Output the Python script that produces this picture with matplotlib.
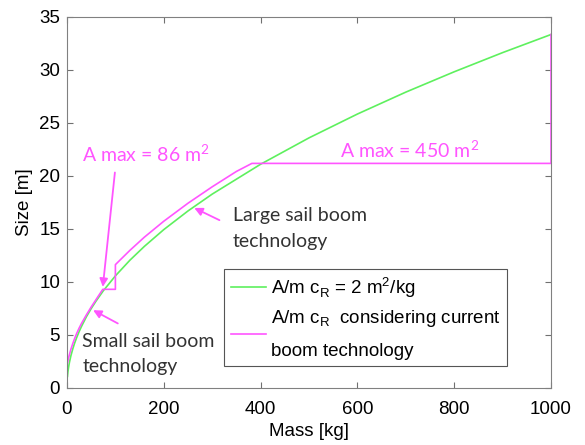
import matplotlib.pyplot as plt

# sail size versus spacecraft mass for A/m cR = 2 m^2/kg
mass_ideal = [1, 2, 3, 5, 8, 12, 16, 20, 25, 30, 40, 50, 60, 75, 100, 130, 160, 200,
              250, 300, 400, 500, 600, 700, 800, 900, 1000]
size_ideal = [1.05, 1.49, 1.83, 2.36, 2.98, 3.65, 4.22, 4.71, 5.27, 5.77, 6.67, 7.45,
              8.16, 9.13, 10.54, 12.02, 13.33, 14.91, 16.67, 18.26, 21.08, 23.57,
              25.82, 27.89, 29.81, 31.62, 33.33]

# same sizing, limited by the booms available today
mass_boom = [1, 3, 5, 8, 12, 16, 20, 25, 30, 40, 50, 60, 74, 100, 100, 130, 160,
             200, 250, 300, 350, 382, 1000, 1000]
size_boom = [2.3, 2.75, 3.1, 3.6, 4.15, 4.65, 5.1, 5.6, 6.05, 6.85, 7.6, 8.3, 9.27,
             9.27, 11.6, 12.95, 14.2, 15.7, 17.4, 18.95, 20.4, 21.16, 21.16, 33.33]

green = "#5ef05e"
magenta = "#ff55ff"
note_font = "Lato"
note_size = 14
fs = 13.5

plt.rcParams["font.family"] = ["Liberation Sans", "DejaVu Sans"]
plt.rcParams["mathtext.fontset"] = "custom"

fig = plt.figure(figsize=(5.85, 4.45), dpi=100)
ax = fig.add_axes([0.1145, 0.1292, 0.8274, 0.833])

ax.plot(mass_ideal, size_ideal, color=green, lw=1.2,
        label="A/m c$_\\mathregular{R}$ = 2 m$^\\mathregular{2}$/kg")
ax.plot(mass_boom, size_boom, color=magenta, lw=1.2,
        label="A/m c$_\\mathregular{R}$  considering current\nboom technology")

ax.set_xlim(0, 1000)
ax.set_ylim(0, 35)
ax.set_xticks([0, 200, 400, 600, 800, 1000])
ax.set_yticks(range(0, 36, 5))
ax.set_xlabel("Mass [kg]", fontsize=fs, labelpad=3)
ax.set_ylabel("Size [m]", fontsize=fs, labelpad=4)
ax.tick_params(direction="in", top=True, right=True, labelsize=fs,
               color="#707070", length=4)
ax.tick_params(axis="x", pad=10)
ax.tick_params(axis="y", pad=5)
for s in ax.spines.values():
    s.set_color("#808080")
    s.set_linewidth(0.8)

arrow = dict(arrowstyle="-|>", color=magenta, lw=1.3, mutation_scale=12,
             shrinkA=0, shrinkB=0)

ax.text(32, 21.27, "A max = 86 m$^\\mathregular{2}$", color=magenta,
        fontsize=note_size, family=note_font, va="baseline")
ax.annotate("", xy=(74, 9.5), xytext=(99, 20.3), arrowprops=arrow)

ax.text(565, 21.73, "A max = 450 m$^\\mathregular{2}$", color=magenta,
        fontsize=note_size, family=note_font, va="baseline")

ax.text(342, 15.73, "Large sail boom", fontsize=note_size, family=note_font,
        color="#333333", va="baseline")
ax.text(342, 13.27, "technology", fontsize=note_size, family=note_font,
        color="#333333", va="baseline")
ax.annotate("", xy=(263, 16.95), xytext=(315, 15.8), arrowprops=arrow)

ax.text(32, 3.81, "Small sail boom", fontsize=note_size, family=note_font,
        color="#333333", va="baseline")
ax.text(32, 1.42, "technology", fontsize=note_size, family=note_font,
        color="#333333", va="baseline")
ax.annotate("", xy=(54, 7.3), xytext=(105, 6.05), arrowprops=arrow)

leg = ax.legend(loc="lower left", bbox_to_anchor=(0.325, 0.057), fontsize=fs,
                frameon=True, fancybox=False, edgecolor="#555555",
                handlelength=1.87, handletextpad=0.27, borderpad=0.35,
                borderaxespad=0, labelspacing=0.4, framealpha=1)
leg.get_frame().set_linewidth(0.8)
for t in leg.get_texts():
    t.set_linespacing(2.1)

fig.savefig("out.png", dpi=100)
